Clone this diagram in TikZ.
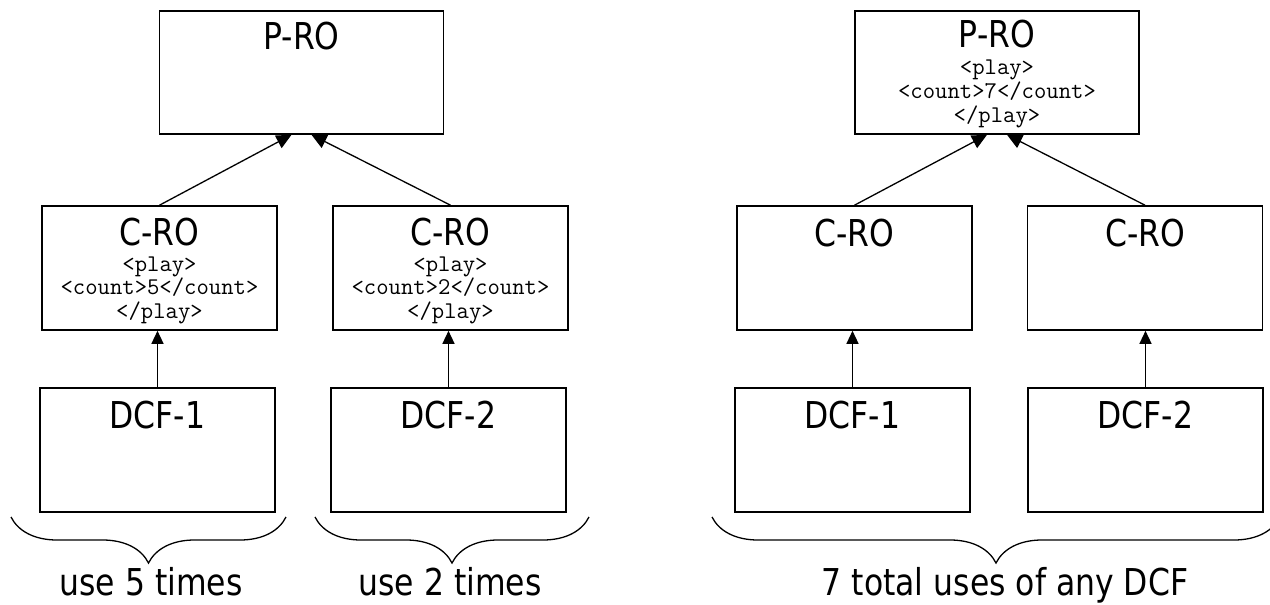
\documentclass[tikz,border=0pt]{standalone}
\usepackage{fontspec}
\newfontfamily\labelfont[FakeStretch=0.85]{DejaVu Sans}
\usetikzlibrary{arrows.meta,decorations.pathreplacing}
\begin{document}
\begin{tikzpicture}[x=1pt,y=-1pt,
  box/.style={draw=black,line width=1.6pt,inner sep=0pt,minimum width=235pt,minimum height=124pt},
  pbox/.style={box,minimum width=284pt,minimum height=123pt},
  big/.style={anchor=base,inner sep=0pt,font=\labelfont\fontsize{37}{40}\selectfont},
  code/.style={anchor=base,inner sep=0pt,font=\ttfamily\fontsize{24}{24}\selectfont},
  link/.style={draw=black,line width=1.3pt,-{Triangle[length=13pt,width=12pt]}},
  uplink/.style={link,-{Triangle[length=15pt,width=14pt]}},
  bracket/.style={draw=black,line width=1.3pt,decorate,decoration={brace,mirror,amplitude=46pt}}]
\useasboundingbox (0,0) rectangle (1270,605);
% left group
\node[pbox] (p1) at (301.5,72.5) {};
\node[box] (c1) at (159.5,268) {};
\node[box] (c2) at (450.5,268) {};
\node[box] (d1) at (157.5,450) {};
\node[box] (d2) at (448.5,450) {};
% right group
\node[pbox] (p2) at (997,72.5) {};
\node[box] (c3) at (854.5,268) {};
\node[box] (c4) at (1145,268) {};
\node[box] (d3) at (852.5,450) {};
\node[box] (d4) at (1145.5,450) {};
% labels
\node[big] (tp1) at ([yshift=-39pt]p1.north) {P-RO};
\node[big] (tp2) at ([yshift=-37pt]p2.north) {P-RO};
\node[code] at ([yshift=-64pt]p2.north) {<play>};
\node[code] at ([yshift=-88pt]p2.north) {<count>7</count>};
\node[code] at ([yshift=-112pt]p2.north) {</play>};
\node[big] at ([yshift=-40pt]c1.north) {C-RO};
\node[code] at ([yshift=-66pt]c1.north) {<play>};
\node[code] at ([yshift=-89pt]c1.north) {<count>5</count>};
\node[code] at ([yshift=-113pt]c1.north) {</play>};
\node[big] at ([yshift=-40pt]c2.north) {C-RO};
\node[code] at ([yshift=-66pt]c2.north) {<play>};
\node[code] at ([yshift=-89pt]c2.north) {<count>2</count>};
\node[code] at ([yshift=-113pt]c2.north) {</play>};
\node[big] at ([yshift=-41pt]c3.north) {C-RO};
\node[big] at ([yshift=-41pt]c4.north) {C-RO};
\node[big] at ([yshift=-41pt]d1.north) {DCF-1};
\node[big] at ([yshift=-41pt]d2.north) {DCF-2};
\node[big] at ([yshift=-41pt]d3.north) {DCF-1};
\node[big] at ([yshift=-41pt]d4.north) {DCF-2};
% connectors
\draw[uplink] (c1.north) -- ([xshift=-10pt]p1.south);
\draw[uplink] (c2.north) -- ([xshift=10pt]p1.south);
\draw[uplink] (c3.north) -- ([xshift=-10pt]p2.south);
\draw[uplink] (c4.north) -- ([xshift=10pt]p2.south);
\draw[link] (d1.north) -- (d1.north |- c1.south);
\draw[link] (d2.north) -- (d2.north |- c2.south);
\draw[link] (d3.north) -- (d3.north |- c3.south);
\draw[link] (d4.north) -- (d4.north |- c4.south);
% braces
\begin{scope}
\clip (0,0) rectangle (1270,605);
\draw[bracket] (11,517) -- (286,517);
\draw[bracket] (315,517) -- (589,517);
\draw[bracket] (712,517) -- (1280,517);
\end{scope}
\node[big] (u1) at (151,595) {use 5 times};
\node[big] (u2) at (450,595) {use 2 times};
\node[big] (u3) at (1005,595) {7 total uses of any DCF};
\end{tikzpicture}
\end{document}
